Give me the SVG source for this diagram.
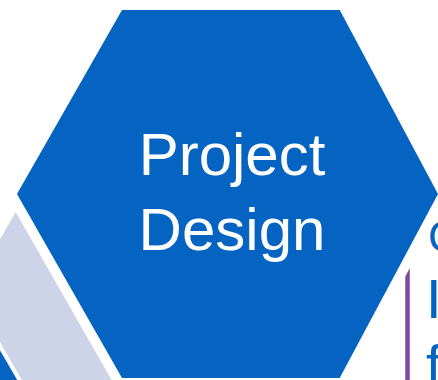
<svg xmlns="http://www.w3.org/2000/svg" width="438" height="380" viewBox="0 0 438 380">
<style>
.light{fill:#CDD4E8}
.blue{fill:#0563C1}
.hex{fill:#0563C1;stroke:#FFFFFF;stroke-width:10;stroke-linejoin:miter}
.lbl{font-family:"Liberation Sans",Arial,sans-serif;font-size:60px;fill:#FFFFFF;text-anchor:middle}
.side{font-family:"Liberation Sans",Arial,sans-serif;fill:#0563C1}
</style>
<rect x="0" y="0" width="438" height="380" fill="#FFFFFF"/>
<g id="hex-top">
<polygon class="light" points="178,4 288,4 300,-17 166,-17" stroke="#CDD4E8" stroke-width="1.5" stroke-linejoin="round"/>
</g>
<g id="hex-bottom-left">
<polygon class="blue" points="-20,315.8 23,390 -20,390"/>
</g>
<g id="hex-left">
<polygon class="light" points="-29.7,290.6 18,208 100,208 220,420 45,420"/>
</g>
<g id="side-text">
<line x1="407.5" y1="262" x2="407.5" y2="384" stroke="#7B4BA1" stroke-width="4.5" stroke-linecap="round"/>
<text class="side" x="428" y="252" font-size="44">C</text>
<text class="side" x="426" y="318" font-size="56">I</text>
<text class="side" x="426" y="384" font-size="56">f</text>
</g>
<g id="project-design">
<polygon class="hex" points="119.1,5 342.7,5 443.7,194 342.7,383 119.1,383 11.2,194"/>
<text class="lbl" x="232" y="175">Project</text>
<text class="lbl" x="232" y="250">Design</text>
</g>
</svg>
